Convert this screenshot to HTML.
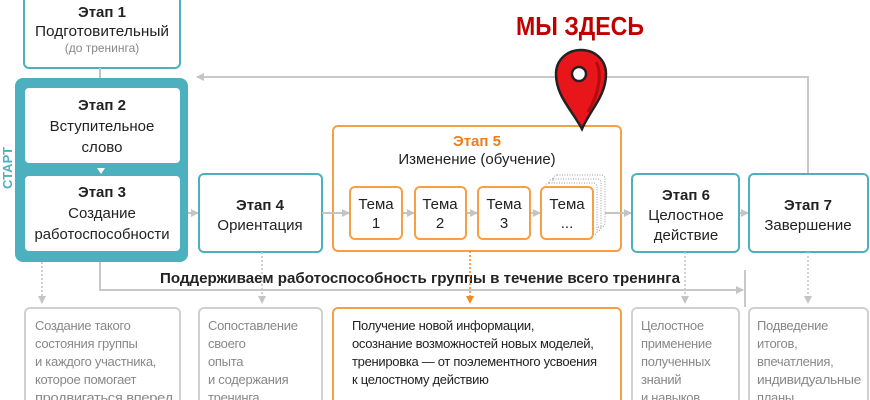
<!DOCTYPE html>
<html><head><meta charset="utf-8"><style>
html,body{margin:0;padding:0;background:#fff;width:870px;height:400px;overflow:hidden}
text{font-family:"Liberation Sans",sans-serif}
</style></head><body>
<svg width="870" height="400" viewBox="0 0 870 400" xmlns="http://www.w3.org/2000/svg">
<defs>
<marker id="ag" markerWidth="8" markerHeight="8" refX="7" refY="4" orient="auto" markerUnits="userSpaceOnUse"><path d="M0,0 L8,4 L0,8 z" fill="#c4c4c4"/></marker>
<marker id="ao" markerWidth="8" markerHeight="8" refX="7" refY="4" orient="auto" markerUnits="userSpaceOnUse"><path d="M0,0 L8,4 L0,8 z" fill="#f28a1e"/></marker>
</defs>
<polyline points="808,174 808,77 197,77" fill="none" stroke="#c8c8c8" stroke-width="2" marker-end="url(#ag)"/>
<rect x="24" y="-6" width="156" height="74" rx="5" fill="#fff" stroke="#4db0bf" stroke-width="2"/>
<text x="102" y="17" font-size="15" font-weight="bold" text-anchor="middle" fill="#222">Этап 1</text>
<text x="102" y="36" font-size="15" text-anchor="middle" fill="#222" textLength="134" lengthAdjust="spacingAndGlyphs">Подготовительный</text>
<text x="102" y="52" font-size="12" text-anchor="middle" fill="#888">(до тренинга)</text>
<line x1="100" y1="68" x2="100" y2="78" stroke="#c4c4c4" stroke-width="2"/>
<rect x="15" y="78" width="173" height="184" rx="8" fill="#4db0bf"/>
<rect x="25" y="88" width="155" height="75" rx="4" fill="#fff"/>
<rect x="25" y="176" width="155" height="75" rx="4" fill="#fff"/>
<path d="M97,168 L105,168 L101,174 z" fill="#fff"/>
<text x="102" y="110" font-size="15" font-weight="bold" text-anchor="middle" fill="#222">Этап 2</text>
<text x="102" y="131" font-size="15" text-anchor="middle" fill="#222">Вступительное</text>
<text x="102" y="152" font-size="15" text-anchor="middle" fill="#222">слово</text>
<text x="102" y="197" font-size="15" font-weight="bold" text-anchor="middle" fill="#222">Этап 3</text>
<text x="102" y="218" font-size="15" text-anchor="middle" fill="#222">Создание</text>
<text x="102" y="239" font-size="15" text-anchor="middle" fill="#222" textLength="135" lengthAdjust="spacingAndGlyphs">работоспособности</text>
<text transform="translate(12,168) rotate(-90)" font-size="13" font-weight="bold" text-anchor="middle" fill="#4db0bf">СТАРТ</text>
<line x1="188" y1="213" x2="198" y2="213" stroke="#c4c4c4" stroke-width="2" marker-end="url(#ag)"/>
<rect x="199" y="174" width="123" height="78" rx="5" fill="#fff" stroke="#4db0bf" stroke-width="2"/>
<text x="260" y="210" font-size="15" font-weight="bold" text-anchor="middle" fill="#222">Этап 4</text>
<text x="260" y="230" font-size="15" text-anchor="middle" fill="#222">Ориентация</text>
<rect x="333" y="126" width="288" height="125" rx="5" fill="none" stroke="#f5a045" stroke-width="2"/>
<line x1="322" y1="213" x2="349" y2="213" stroke="#c4c4c4" stroke-width="2" marker-end="url(#ag)"/>
<text x="477" y="146" font-size="15" font-weight="bold" text-anchor="middle" fill="#f07d17">Этап 5</text>
<text x="477" y="164" font-size="15" text-anchor="middle" fill="#222">Изменение (обучение)</text>
<rect x="553" y="175" width="52" height="52" rx="4" fill="none" stroke="#999" stroke-width="1" stroke-dasharray="1,1.5"/>
<rect x="549" y="179" width="52" height="52" rx="4" fill="none" stroke="#999" stroke-width="1" stroke-dasharray="1,1.5"/>
<rect x="545" y="183" width="52" height="52" rx="4" fill="#fff" stroke="#999" stroke-width="1" stroke-dasharray="1,1.5"/>
<g stroke="#c4c4c4" stroke-width="2">
<line x1="402" y1="213" x2="414" y2="213" marker-end="url(#ag)"/>
<line x1="466" y1="213" x2="477" y2="213" marker-end="url(#ag)"/>
<line x1="530" y1="213" x2="540" y2="213" marker-end="url(#ag)"/>
<line x1="605" y1="213" x2="631" y2="213" marker-end="url(#ag)"/>
<line x1="739" y1="213" x2="748" y2="213" marker-end="url(#ag)"/>
</g>
<g fill="#fff" stroke="#f5a045" stroke-width="2">
<rect x="350" y="187" width="52" height="52" rx="5"/>
<rect x="415" y="187" width="51" height="52" rx="5"/>
<rect x="478" y="187" width="52" height="52" rx="5"/>
<rect x="541" y="187" width="52" height="52" rx="5"/>
</g>
<g font-size="15" text-anchor="middle" fill="#222">
<text x="376" y="209">Тема</text><text x="376" y="228">1</text>
<text x="440" y="209">Тема</text><text x="440" y="228">2</text>
<text x="504" y="209">Тема</text><text x="504" y="228">3</text>
<text x="567" y="209">Тема</text><text x="567" y="228">...</text>
</g>
<rect x="632" y="174" width="107" height="78" rx="5" fill="#fff" stroke="#4db0bf" stroke-width="2"/>
<text x="686" y="200" font-size="15" font-weight="bold" text-anchor="middle" fill="#222">Этап 6</text>
<text x="686" y="220" font-size="15" text-anchor="middle" fill="#222">Целостное</text>
<text x="686" y="240" font-size="15" text-anchor="middle" fill="#222">действие</text>
<rect x="749" y="174" width="119" height="78" rx="5" fill="#fff" stroke="#4db0bf" stroke-width="2"/>
<text x="808" y="210" font-size="15" font-weight="bold" text-anchor="middle" fill="#222">Этап 7</text>
<text x="808" y="230" font-size="15" text-anchor="middle" fill="#222">Завершение</text>
<text x="580" y="35" font-size="26" font-weight="bold" text-anchor="middle" fill="#c00000" textLength="128" lengthAdjust="spacingAndGlyphs">МЫ ЗДЕСЬ</text>
<path d="M582,129 C572,110 556,96 556,74 C556,60 567,50 581,50 C595,50 606,60 606,74 C606,96 590,110 582,129 z" fill="#e8161a" stroke="#222" stroke-width="2.5"/>
<path d="M596,62 C602,72 600,92 588,112" fill="none" stroke="#b00d10" stroke-width="3"/>
<ellipse cx="579" cy="74" rx="7" ry="7" fill="#fff" stroke="#222" stroke-width="2.5"/>
<polyline points="100,262 100,290 743,290" fill="none" stroke="#c8c8c8" stroke-width="2" marker-end="url(#ag)"/>
<line x1="745" y1="270" x2="745" y2="307" stroke="#c8c8c8" stroke-width="2"/>
<text x="420" y="283" font-size="15" font-weight="bold" text-anchor="middle" fill="#222" textLength="520" lengthAdjust="spacingAndGlyphs">Поддерживаем работоспособность группы в течение всего тренинга</text>
<g stroke="#c4c4c4" stroke-width="1.5" stroke-dasharray="2,2" fill="none">
<line x1="42" y1="262" x2="42" y2="303" marker-end="url(#ag)"/>
<line x1="262" y1="252" x2="262" y2="303" marker-end="url(#ag)"/>
<line x1="685" y1="252" x2="685" y2="303" marker-end="url(#ag)"/>
<line x1="808" y1="252" x2="808" y2="303" marker-end="url(#ag)"/>
</g>
<line x1="470" y1="251" x2="470" y2="303" stroke="#f28a1e" stroke-width="1.5" stroke-dasharray="2,2" marker-end="url(#ao)"/>
<g fill="#fff" stroke="#d0d0d0" stroke-width="2">
<rect x="25" y="308" width="155" height="110" rx="5"/>
<rect x="199" y="308" width="123" height="110" rx="5"/>
<rect x="632" y="308" width="107" height="110" rx="5"/>
<rect x="749" y="308" width="119" height="110" rx="5"/>
</g>
<rect x="333" y="308" width="288" height="110" rx="5" fill="#fff" stroke="#f5a045" stroke-width="2"/>
<g font-size="13" fill="#888" letter-spacing="-0.3">
<text x="35" y="330">Создание такого</text>
<text x="35" y="348">состояния группы</text>
<text x="35" y="366">и каждого участника,</text>
<text x="35" y="384">которое помогает</text>
<text x="35" y="402" textLength="138" lengthAdjust="spacingAndGlyphs">продвигаться вперед</text>
<text x="208" y="330">Сопоставление</text>
<text x="208" y="348">своего</text>
<text x="208" y="366">опыта</text>
<text x="208" y="384">и содержания</text>
<text x="208" y="402">тренинга,</text>
<text x="641" y="330">Целостное</text>
<text x="641" y="348">применение</text>
<text x="641" y="366">полученных</text>
<text x="641" y="384">знаний</text>
<text x="641" y="402">и навыков</text>
<text x="757" y="330">Подведение</text>
<text x="757" y="348">итогов,</text>
<text x="757" y="366">впечатления,</text>
<text x="757" y="384" textLength="104" lengthAdjust="spacingAndGlyphs">индивидуальные</text>
<text x="757" y="402">планы</text>
</g>
<g font-size="13" fill="#222" letter-spacing="-0.3">
<text x="352" y="330">Получение новой информации,</text>
<text x="352" y="348">осознание возможностей новых моделей,</text>
<text x="352" y="366">тренировка — от поэлементного усвоения</text>
<text x="352" y="384">к целостному действию</text>
</g>
</svg>
</body></html>
